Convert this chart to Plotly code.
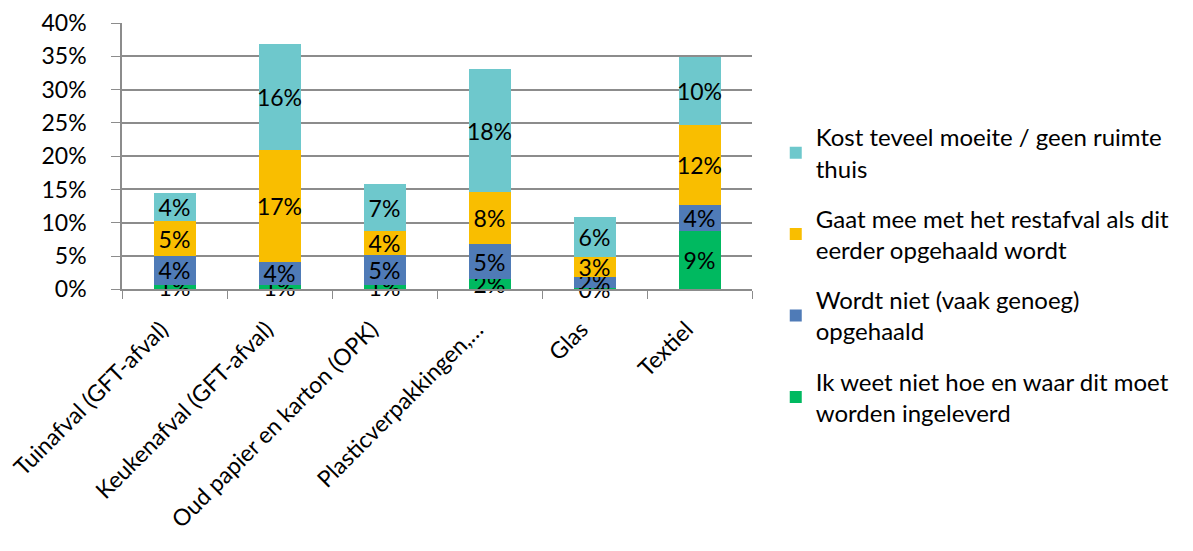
import plotly.graph_objects as go

categories = ["Tuinafval (GFT-afval)", "Keukenafval (GFT-afval)", "Oud papier en karton (OPK)",
              "Plasticverpakkingen,…", "Glas", "Textiel"]

series_names = [
    "Ik weet niet hoe en waar dit moet<br>worden ingeleverd",
    "Wordt niet (vaak genoeg)<br>opgehaald",
    "Gaat mee met het restafval als dit<br>eerder opgehaald wordt",
    "Kost teveel moeite / geen ruimte<br>thuis",
]
weet_niet = [0.0065, 0.006, 0.0065, 0.015, 0.0025, 0.087]
niet_opgehaald = [0.0435, 0.0355, 0.045, 0.053, 0.0165, 0.0395]
restafval = [0.052, 0.168, 0.036, 0.0785, 0.0295, 0.121]
moeite = [0.0425, 0.159, 0.0705, 0.184, 0.0595, 0.1015]
series_values = [weet_niet, niet_opgehaald, restafval, moeite]
colors = ["#00B960", "#4F7BB7", "#F9BE00", "#6EC8CC"]

FONT = "Lato"
# page body has an 8px margin, so the figure is placed at (8, 8)
W, H = 1185, 543
MT, MB = 10, 10
GH = H - MT - MB
plot_top_px, plot_bot_px = 15, 281.3

fig = go.Figure()
for i, (name, vals, col) in enumerate(zip(series_names, series_values, colors)):
    fig.add_trace(go.Bar(
        x=categories, y=vals, name=name, marker=dict(color=col, line=dict(width=0)),
        text=vals, texttemplate="%{y:.0%}", textposition="inside",
        insidetextanchor="middle", textangle=0, constraintext="none",
        textfont=dict(family=FONT, size=23, color="black"),
        legendgroup=f"g{i}", legendrank=len(series_names) - i, width=0.4,
        cliponaxis=False,
    ))

fig.update_layout(
    width=W, height=H,
    barmode="stack",
    plot_bgcolor="white", paper_bgcolor="white",
    margin=dict(l=114, r=441, t=MT, b=MB, autoexpand=False),
    font=dict(family=FONT, size=23, color="black"),
    legend=dict(x=1.0377, y=(H - MB - 107) / GH, xanchor="left", yanchor="top",
                traceorder="grouped", tracegroupgap=16,
                font=dict(family=FONT, size=24, color="black"),
                itemwidth=30),
    showlegend=True,
)

fig.update_xaxes(
    automargin=False,
    showline=True, linecolor="#8C8C8C", linewidth=1.5,
    ticks="outside", tickson="boundaries", ticklen=8, tickcolor="#8C8C8C",
    tickangle=-45, tickfont=dict(family=FONT, size=23),
    ticklabelstandoff=16, ticklabelshift=-13,
    showgrid=False,
)
fig.update_yaxes(
    automargin=False,
    domain=[(H - MB - plot_bot_px) / GH, (H - MB - plot_top_px) / GH],
    range=[0, 0.4], dtick=0.05, tickformat=".0%",
    showline=True, linecolor="#8C8C8C", linewidth=1.5,
    ticks="outside", ticklen=9, tickcolor="#8C8C8C",
    showgrid=True, gridcolor="#8C8C8C", gridwidth=1.5,
    tickfont=dict(family=FONT, size=23),
    ticklabelstandoff=20, zeroline=False,
)

fig.write_html("out.html")
